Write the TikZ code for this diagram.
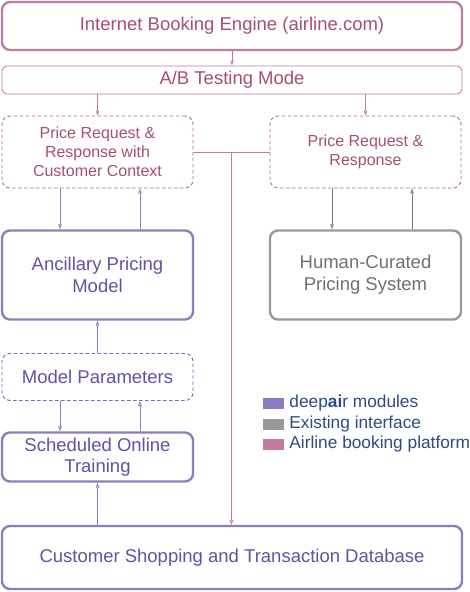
\documentclass[tikz,border=0pt]{standalone}
\usepackage{fontspec}
\setmainfont{Liberation Sans}
\usepackage{xcolor}
\usetikzlibrary{calc,positioning,arrows.meta}

\definecolor{airpink}{HTML}{C27BA0}
\definecolor{airpinktext}{HTML}{A64D79}
\definecolor{deeppurple}{HTML}{8E7CC3}
\definecolor{deeppurpletext}{HTML}{674EA7}
\definecolor{existgray}{HTML}{999999}
\definecolor{existgraytext}{HTML}{707070}
\definecolor{legendtext}{HTML}{2E4A86}

\begin{document}
\begin{tikzpicture}[
    x=1pt, y=-1pt,
    % GLOBAL CFG
    font=\fontsize{16}{19}\selectfont,
    >={Triangle[open,length=5pt,width=3.6pt]},
    % Styles
    box/.style={% For every box
        rectangle,
        rounded corners=8pt,
        draw,
        align=center,
        inner sep=1pt,
        },
    mainbox/.style={% Thick boxes
        box,
        line width=2.4pt,
        font=\fontsize{18.5}{22}\selectfont,
        },
    thinbox/.style={% Thin plain boxes
        box,
        line width=0.8pt,
        rounded corners=5pt,
        },
    msgbox/.style={% Dashed boxes for messages
        box,
        line width=0.9pt,
        dashed,
        dash pattern=on 3.5pt off 2.5pt,
        },
    platform/.style={draw=airpink, text=airpinktext},
    deepair/.style={draw=deeppurple, text=deeppurpletext},
    existing/.style={draw=existgray, text=existgraytext},
    ArrowPink/.style={->, airpink, line width=0.8pt},
    ArrowPurple/.style={->, deeppurple, line width=0.8pt},
    ArrowGray/.style={->, existgray!80!black, line width=0.8pt},
    swatch/.style={% legend squares
        rectangle,
        minimum width=21pt,
        minimum height=11pt,
        inner sep=0pt,
        },
    legendlabel/.style={% legend texts
        anchor=west,
        text=legendtext,
        inner sep=0pt,
        font=\fontsize{17.3}{19}\selectfont,
        },
    ]

    \useasboundingbox (0,0) rectangle (470,592);

    % Booking platform
    \node [mainbox, platform, minimum width=460pt, minimum height=48pt] (ibe) at (232,26) {Internet Booking Engine (airline.com)};
    \node [thinbox, platform, minimum width=460pt, minimum height=28pt, font=\fontsize{18.5}{20}\selectfont] (ab) at (232,80) {A/B Testing Mode};

    % Requests
    \node [msgbox, platform, draw=airpinktext!85, minimum width=191pt, minimum height=72pt] (reqL) at (97.5,152) {Price Request \&\\Response with\\Customer Context};
    \node [msgbox, platform, draw=airpinktext!85, minimum width=191pt, minimum height=72pt] (reqR) at (365.5,152) {Price Request \&\\Response};

    % Pricing engines
    \node [mainbox, deepair, minimum width=191pt, minimum height=89pt] (apm) at (97.5,275) {Ancillary Pricing\\Model};
    \node [mainbox, existing, minimum width=191pt, minimum height=89pt] (hcp) at (365.5,275) {Human-Curated\\Pricing System};

    % Training loop
    \node [msgbox, deepair, draw=deeppurpletext!85, minimum width=191pt, minimum height=47pt, font=\fontsize{18.5}{20}\selectfont] (params) at (97.5,377) {Model Parameters};
    \node [mainbox, deepair, minimum width=191pt, minimum height=49pt, font=\fontsize{18.5}{21}\selectfont] (train) at (97.5,457) {Scheduled Online\\Training};
    \node [mainbox, deepair, minimum width=460pt, minimum height=63pt] (db) at (232,557.5) {Customer Shopping and Transaction Database};

    % Connectors
    \draw [ArrowPink] (ibe) -- (ab);
    \draw [ArrowPink] (ab.south -| reqL.north) -- (reqL.north);
    \draw [ArrowPink] (ab.south -| reqR.north) -- (reqR.north);

    \coordinate (jn) at ($(reqL.east)!0.5!(reqR.west)$);
    \draw [airpink, line width=0.8pt] (reqL.east) -- (reqR.west);
    \draw [ArrowPink] (jn) -- (jn |- db.north);

    \draw [ArrowPurple] ([xshift=-37.5pt]reqL.south) -- ([xshift=-37.5pt]apm.north);
    \draw [ArrowPurple] ([xshift=42.5pt]apm.north) -- ([xshift=42.5pt]reqL.south);
    \draw [ArrowGray] ([xshift=-33.5pt]reqR.south) -- ([xshift=-33.5pt]hcp.north);
    \draw [ArrowGray] ([xshift=46.5pt]hcp.north) -- ([xshift=46.5pt]reqR.south);

    \draw [ArrowPurple] (params) -- (apm);
    \draw [ArrowPurple] ([xshift=-37.5pt]params.south) -- ([xshift=-37.5pt]train.north);
    \draw [ArrowPurple] ([xshift=42.5pt]train.north) -- ([xshift=42.5pt]params.south);
    \draw [ArrowPurple] (train.south |- db.north) -- (train.south);

    % Legend
    \node [swatch, fill=deeppurple] (keydeep) at (273.5,403.5) {};
    \node [swatch, fill=existgray] (keyexist) at (273.5,424) {};
    \node [swatch, fill=airpink] (keyair) at (273.5,444) {};
    \node [legendlabel, right=5pt of keydeep] {deep\textbf{ai}r modules};
    \node [legendlabel, right=5pt of keyexist] {Existing interface};
    \node [legendlabel, right=5pt of keyair] {Airline booking platform};
\end{tikzpicture}
\end{document}
